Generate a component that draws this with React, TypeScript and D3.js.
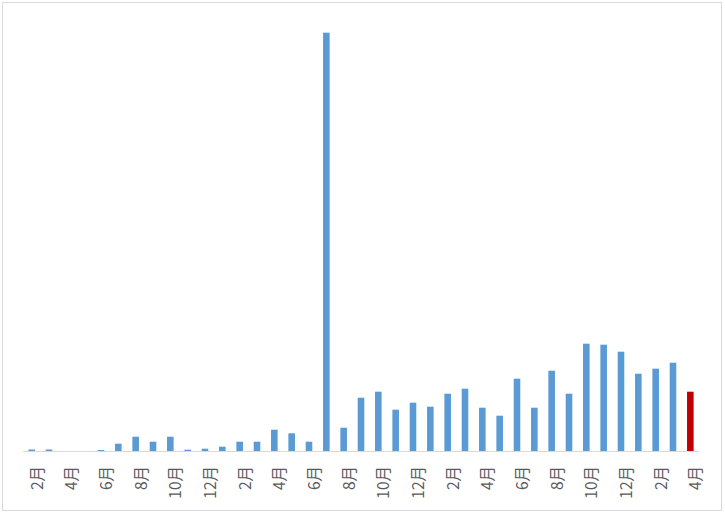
import React from "react";
import * as d3 from "d3";

const months: string[] = [
  "2月","3月","4月","5月","6月","7月","8月","9月","10月","11月","12月",
  "1月","2月","3月","4月","5月","6月","7月","8月","9月","10月","11月","12月",
  "1月","2月","3月","4月","5月","6月","7月","8月","9月","10月","11月","12月",
  "1月","2月","3月","4月",
];
const values: number[] = [
  1.5, 1.5, 0, 0, 1, 7.3, 14.3, 9.3, 14.3, 1.3, 2.3,
  4.3, 9.3, 9.3, 21.3, 17.7, 9.3, 418.3, 23.3, 53.3, 59.3, 41.3, 48.3,
  44.3, 57.3, 62.3, 43.3, 35.3, 72.3, 43.3, 80.3, 57.3, 107.3, 106.3, 99.3,
  77.3, 82.3, 88.3, 59.3,
];
const highlightIndex = 38;

export default function App() {
  const W = 725, H = 514;
  const left = 23, right = 699, base = 451, top = 32.7;
  const ids = months.map((_, i) => String(i));
  const x = d3.scaleBand<string>().domain(ids).range([left, right]).paddingInner(0.62).paddingOuter(0.31);
  const y = d3.scaleLinear().domain([0, d3.max(values) as number]).range([base, top]);
  return (
    <svg width={W} height={H} style={{ position: "absolute", left: 0, top: 0, background: "#fff" }}>
      <rect x={2.5} y={2.5} width={719} height={508} fill="#fff" stroke="#D9D9D9" strokeWidth={1} />
      {values.map((v, i) => (
        <rect key={i} x={x(String(i))} y={y(v)} width={x.bandwidth()} height={base - y(v)}
          fill={i === highlightIndex ? "#C00000" : "#5B9BD5"} />
      ))}
      <line x1={left} x2={right} y1={base + 0.5} y2={base + 0.5} stroke="#D9D9D9" strokeWidth={1} />
      {months.map((m, i) => i % 2 === 0 ? (
        <text key={i} transform={`translate(${(x(String(i)) as number) + x.bandwidth() / 2 + 4},466) rotate(-90)`}
          textAnchor="end" dominantBaseline="central" fontSize={15.5}
          fontFamily="'Noto Sans CJK JP', 'Noto Sans', sans-serif" fill="#595959">{m}</text>
      ) : null)}
    </svg>
  );
}
